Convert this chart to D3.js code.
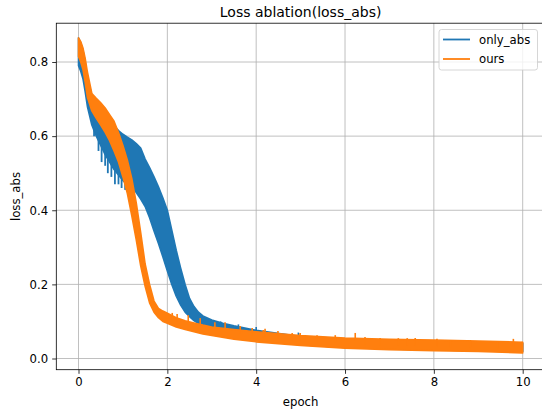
<!DOCTYPE html>
<html>
  <head>
    <meta charset="UTF-8" />
    <style>
      body { margin: 0; background: #fff; }
      svg { display: block; font-family: 'DejaVu Sans', sans-serif; }
    </style>
  </head>
  <body>
    <svg></svg>

    <script src="https://d3js.org/d3.v7.min.js"></script>

    <script>
      let width = 542,
        height = 413

      // the curves are very noisy, so each one is kept as a band:
      // lowest / highest loss seen around each epoch
      let absEpoch = [0, 0.05, 0.1, 0.15, 0.2, 0.3, 0.4, 0.5, 0.6, 0.7, 0.8, 0.9, 1.0, 1.1, 1.2, 1.3, 1.4, 1.5, 1.6, 1.7, 1.8, 1.9, 2.0, 2.1, 2.2, 2.3, 2.4, 2.5, 2.6, 2.7, 2.8, 3.0, 3.25, 3.5, 4, 5, 6, 7, 8, 9, 10]
      let absLow = [0.79, 0.775, 0.755, 0.72, 0.68, 0.63, 0.6, 0.575, 0.55, 0.53, 0.51, 0.495, 0.48, 0.47, 0.46, 0.448, 0.43, 0.41, 0.38, 0.344, 0.31, 0.274, 0.236, 0.2, 0.168, 0.144, 0.125, 0.113, 0.102, 0.094, 0.088, 0.08, 0.073, 0.066, 0.05, 0.037, 0.03, 0.026, 0.023, 0.021, 0.019]
      let absHigh = [0.865, 0.852, 0.832, 0.8, 0.76, 0.71, 0.69, 0.672, 0.655, 0.64, 0.628, 0.615, 0.605, 0.597, 0.59, 0.58, 0.568, 0.538, 0.515, 0.49, 0.463, 0.433, 0.4, 0.346, 0.292, 0.244, 0.2, 0.162, 0.14, 0.125, 0.115, 0.104, 0.095, 0.088, 0.076, 0.059, 0.052, 0.049, 0.046, 0.044, 0.041]

      let oursEpoch = [0, 0.05, 0.1, 0.15, 0.2, 0.3, 0.4, 0.5, 0.6, 0.7, 0.8, 0.9, 1.0, 1.1, 1.2, 1.3, 1.4, 1.5, 1.6, 1.7, 1.8, 1.9, 2.0, 2.2, 2.4, 2.6, 2.8, 3.0, 3.5, 4, 5, 6, 7, 8, 9, 10]
      let oursLow = [0.815, 0.8, 0.78, 0.745, 0.705, 0.668, 0.648, 0.63, 0.61, 0.588, 0.56, 0.53, 0.49, 0.445, 0.385, 0.32, 0.25, 0.195, 0.15, 0.125, 0.11, 0.1, 0.095, 0.085, 0.078, 0.072, 0.066, 0.062, 0.052, 0.045, 0.035, 0.028, 0.024, 0.021, 0.019, 0.015]
      let oursHigh = [0.865, 0.855, 0.838, 0.81, 0.773, 0.715, 0.702, 0.69, 0.676, 0.658, 0.64, 0.61, 0.575, 0.535, 0.485, 0.42, 0.34, 0.255, 0.2, 0.155, 0.135, 0.128, 0.122, 0.11, 0.102, 0.096, 0.09, 0.085, 0.078, 0.072, 0.062, 0.055, 0.052, 0.05, 0.047, 0.044]

      // single tall spikes sticking up out of the bands: [epoch, loss]
      let oursSpikes = [[2.11, 0.123], [2.22, 0.12], [2.47, 0.117], [2.74, 0.109], [3.07, 0.098], [3.3, 0.098], [3.64, 0.088], [3.91, 0.082], [4.16, 0.077], [4.2, 0.08], [4.49, 0.074], [4.81, 0.069], [4.99, 0.069], [5.37, 0.063], [5.78, 0.063], [6.23, 0.069], [6.45, 0.058], [6.79, 0.055], [7.2, 0.055], [7.4, 0.055], [7.58, 0.055], [8.07, 0.053], [8.37, 0.05], [8.82, 0.05], [9.43, 0.047], [9.79, 0.053], [9.99, 0.045]]
      let absSpikes = [[3.2, 0.1], [3.6, 0.092], [4.0, 0.085], [4.95, 0.07]]
      // downward spikes of only_abs on the left of the ours band: [epoch, loss]
      let absDips = [[0.35, 0.6], [0.45, 0.56], [0.52, 0.53], [0.6, 0.52], [0.66, 0.5], [0.74, 0.49], [0.82, 0.47], [0.9, 0.47], [0.97, 0.46], [1.05, 0.455]]

      let xTicks = [0, 2, 4, 6, 8, 10]
      let yTicks = [0.0, 0.2, 0.4, 0.6, 0.8]
      let seriesNames = ['only_abs', 'ours']
      let colors = ['#1f77b4', '#ff7f0e']

      let svg = d3.select('svg').attr('width', width).attr('height', height)

      let x = d3.scaleLinear().domain([-0.5, 10.5]).range([56.3, 544.9])
      let y = d3.scaleLinear().domain([-0.0302, 0.9047]).range([369.7, 23.2])

      // grid
      let grid = svg.append('g').attr('stroke', '#b0b0b0').attr('stroke-width', 0.8)
      grid.selectAll('.gx').data(xTicks).enter().append('line')
        .attr('x1', (d) => x(d)).attr('x2', (d) => x(d))
        .attr('y1', y.range()[0]).attr('y2', y.range()[1])
      grid.selectAll('.gy').data(yTicks).enter().append('line')
        .attr('x1', x.range()[0]).attr('x2', x.range()[1])
        .attr('y1', (d) => y(d)).attr('y2', (d) => y(d))

      function band(epochs, lo, hi) {
        return epochs.map((e, i) => ({ e: e, lo: lo[i], hi: hi[i] }))
      }

      let area = d3.area().x((d) => x(d.e)).y0((d) => y(d.lo)).y1((d) => y(d.hi))

      let bands = [
        { data: band(absEpoch, absLow, absHigh), spikes: absSpikes, dips: absDips },
        { data: band(oursEpoch, oursLow, oursHigh), spikes: oursSpikes, dips: [] },
      ]

      bands.forEach((b, i) => {
        let g = svg.append('g')
        g.append('path')
          .attr('d', area(b.data))
          .attr('fill', colors[i])
          .attr('stroke', colors[i])
          .attr('stroke-width', 1.6)
          .attr('stroke-linejoin', 'round')
        g.selectAll('.up').data(b.spikes).enter().append('line')
          .attr('x1', (d) => x(d[0])).attr('x2', (d) => x(d[0]))
          .attr('y1', (d) => y(d[1])).attr('y2', (d) => y(d[1] - 0.02))
          .attr('stroke', colors[i])
          .attr('stroke-width', 1.6)
        g.selectAll('.down').data(b.dips).enter().append('line')
          .attr('x1', (d) => x(d[0])).attr('x2', (d) => x(d[0]))
          .attr('y1', (d) => y(d[1])).attr('y2', (d) => y(d[1] + 0.05))
          .attr('stroke', colors[i])
          .attr('stroke-width', 1.8)
      })

      // axes
      let xAxis = d3.axisBottom(x).tickValues(xTicks).tickSize(4.1).tickPadding(4).tickFormat(d3.format('d'))
      let yAxis = d3.axisLeft(y).tickValues(yTicks).tickSize(4.1).tickPadding(4).tickFormat(d3.format('.1f'))

      let gx = svg.append('g').attr('transform', 'translate(0,' + y.range()[0] + ')').call(xAxis)
      let gy = svg.append('g').attr('transform', 'translate(' + x.range()[0] + ',0)').call(yAxis)
      ;[gx, gy].forEach((g) => {
        g.select('.domain').remove()
        g.selectAll('.tick line').attr('stroke', '#000').attr('stroke-width', 0.8)
        g.selectAll('.tick text').attr('fill', '#000').style('font-size', '11.7px').style('font-family', 'DejaVu Sans')
      })

      // spines
      svg.append('rect')
        .attr('x', x.range()[0]).attr('y', y.range()[1])
        .attr('width', x.range()[1] - x.range()[0])
        .attr('height', y.range()[0] - y.range()[1])
        .attr('fill', 'none').attr('stroke', '#000').attr('stroke-width', 0.8)

      svg.append('text')
        .attr('x', 300.6).attr('y', 16.6)
        .attr('text-anchor', 'middle')
        .style('font-size', '14px')
        .text('Loss ablation(loss_abs)')

      svg.append('text')
        .attr('x', 300.6).attr('y', 405.5)
        .attr('text-anchor', 'middle')
        .style('font-size', '11.7px')
        .text('epoch')

      svg.append('text')
        .attr('transform', 'translate(19.5,196.5) rotate(-90)')
        .attr('text-anchor', 'middle')
        .style('font-size', '11.7px')
        .text('loss_abs')

      // legend
      let legend = svg.append('g').attr('transform', 'translate(439,29.5)')
      legend.append('rect')
        .attr('width', 98.5).attr('height', 40.5)
        .attr('rx', 2.5)
        .attr('fill', '#fff').attr('fill-opacity', 0.8)
        .attr('stroke', '#cccccc').attr('stroke-width', 0.8)
      seriesNames.forEach((name, i) => {
        let row = legend.append('g').attr('transform', 'translate(0,' + (10 + i * 19.5) + ')')
        row.append('line')
          .attr('x1', 4).attr('x2', 31)
          .attr('stroke', colors[i]).attr('stroke-width', 1.8)
        row.append('text')
          .attr('x', 40).attr('y', 4.3)
          .style('font-size', '11.7px')
          .text(name)
      })
    </script>
  </body>
</html>
